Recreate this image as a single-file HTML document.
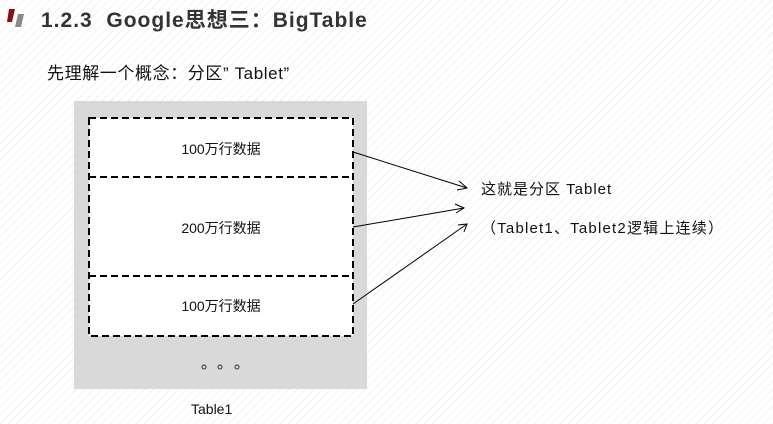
<!DOCTYPE html>
<html><head><meta charset="utf-8"><style>
body{margin:0;width:773px;height:424px;overflow:hidden;font-family:"Liberation Sans","Noto Sans CJK SC",sans-serif;
background:repeating-linear-gradient(135deg,#fff 0,#fff 5px,#f1f1f1 5px,#f1f1f1 6px);position:relative;color:#111}
.t{position:absolute;white-space:nowrap}
</style></head><body>
<svg width="773" height="424" style="position:absolute;left:0;top:0">
<polygon points="9,9 15,9 12,22 7,22" fill="#8b0e12"/>
<polygon points="18,14 24,14 21,27 15,27" fill="#8a8a8a"/>
<rect x="74" y="101" width="293" height="288" fill="#d9d9d9"/>
<rect x="89" y="118" width="264" height="218" fill="#fff" stroke="#000" stroke-width="2" stroke-dasharray="7,4"/>
<line x1="89" y1="177" x2="353" y2="177" stroke="#000" stroke-width="2" stroke-dasharray="7,4"/>
<line x1="89" y1="276" x2="353" y2="276" stroke="#000" stroke-width="2" stroke-dasharray="7,4"/>
<g stroke="#000" stroke-width="1" fill="none">
<line x1="353" y1="152" x2="467" y2="188"/><polyline points="459,181 467,188 457,190"/>
<line x1="353" y1="227" x2="464" y2="208"/><polyline points="455,204 464,208 456,213"/>
<line x1="353" y1="304" x2="467" y2="224"/><polyline points="458,225 467,224 464,232"/>
</g>
<g fill="none" stroke="#333" stroke-width="1"><circle cx="204" cy="367" r="2"/><circle cx="220" cy="367" r="2"/><circle cx="237" cy="367" r="2"/></g>
</svg>
<div class="t" style="left:41px;top:4px;font-size:21px;font-weight:bold;color:#333;letter-spacing:1px">1.2.3&nbsp; Google思想三：BigTable</div>
<div class="t" style="left:47px;top:59px;font-size:17px;letter-spacing:0.6px">先理解一个概念：分区” Tablet”</div>
<div class="t" style="left:89px;width:264px;text-align:center;top:139px;font-size:14px">100万行数据</div>
<div class="t" style="left:89px;width:264px;text-align:center;top:218px;font-size:14px">200万行数据</div>
<div class="t" style="left:89px;width:264px;text-align:center;top:296px;font-size:14px">100万行数据</div>
<div class="t" style="left:191px;top:401px;font-size:14px">Table1</div>
<div class="t" style="left:481px;top:178px;font-size:15px;letter-spacing:1px">这就是分区 Tablet</div>
<div class="t" style="left:481px;top:217px;font-size:15px;letter-spacing:1.2px">（Tablet1、Tablet2逻辑上连续）</div>
</body></html>
